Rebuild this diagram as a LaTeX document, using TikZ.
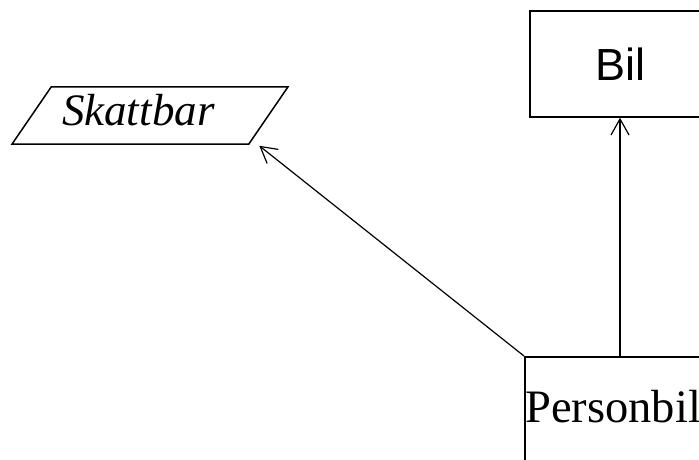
\documentclass[tikz,border=0pt]{standalone}
\usepackage{fontspec}
\setmainfont{Liberation Serif}
\newfontfamily\arialfont{Liberation Sans}
\usetikzlibrary{shapes.geometric, arrows.meta, positioning}
\tikzstyle{rect} = [draw, rectangle, line width=1.5pt, font=\fontsize{45}{54}\selectfont]
\tikzstyle{iface} = [draw, trapezium, trapezium left angle=54, trapezium right angle=126, trapezium stretches, line width=1.5pt, minimum width=276pt, minimum height=57pt, font=\fontsize{45}{54}\selectfont\itshape]
\tikzstyle{line} = [draw, line width=1.2pt, -{Straight Barb[length=16pt, width=18pt]}]

\begin{document}
\begin{tikzpicture}[x=1pt, y=1pt]
	\clip (0,0) rectangle (699,459);
	\node [iface, text width=176pt, align=left, text height=31pt, text depth=12pt] (skattbar) at (150,343.5) {Skattbar};
	\node [rect, font=\arialfont\fontsize{45}{54}\selectfont, minimum width=180pt, minimum height=106pt] (bil) at (620,395) {Bil};
	\node [rect, font=\fontsize{46.5}{54}\selectfont, anchor=north west, inner xsep=0.5pt, inner ysep=0pt, text width=250pt, align=left, text height=66pt, text depth=60pt] (personbil) at (524,103) {Personbil};
	\coordinate [below right=1pt and 10pt of skattbar.bottom right corner] (skattend);

	\path [line] (personbil.north west) -- (skattend);
	\path [line] (bil.south |- personbil.north) -- (bil.south);
\end{tikzpicture}
\end{document}
